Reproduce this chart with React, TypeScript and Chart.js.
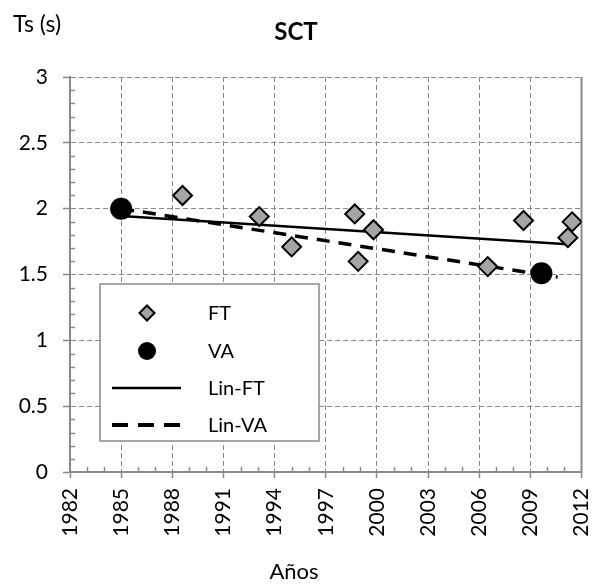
import React, { useEffect, useRef } from "react";
import { Chart, registerables } from "chart.js";

Chart.register(...registerables);

// ---- data ----
const TITLE = "SCT";
const Y_TITLE = "Ts (s)";
const X_TITLE = "Años";
const SERIES_NAMES = ["FT", "VA", "Lin-FT", "Lin-VA"];

const ftYears = [1988.6, 1993.1, 1995.0, 1998.7, 1998.9, 1999.8, 2006.5, 2008.6, 2011.2, 2011.45];
const ftValues = [2.1, 1.94, 1.71, 1.96, 1.6, 1.84, 1.56, 1.91, 1.78, 1.9];

const vaYears = [1985.0, 2009.65];
const vaValues = [2.0, 1.51];

const linFtYears = [1985.0, 2011.2];
const linFtValues = [1.944, 1.729];

const linVaYears = [1985.0, 2010.6];
const linVaValues = [2.0, 1.48];

const X_MIN = 1982;
const X_MAX = 2012;
const X_STEP = 3;
const X_MINOR = 1;
const Y_MIN = 0;
const Y_MAX = 3;
const Y_STEP = 0.5;
const Y_MINOR = 0.1;

// ---- styles ----
const FONT = 'Lato, "Open Sans", sans-serif';
const GRID = "#8a8a8a";
const DIAMOND_FILL = "#a5a5a5";

const toPts = (xs: number[], ys: number[]) => xs.map((x, i) => ({ x, y: ys[i] }));

function line(ctx: CanvasRenderingContext2D, x1: number, y1: number, x2: number, y2: number) {
  ctx.beginPath();
  ctx.moveTo(x1, y1);
  ctx.lineTo(x2, y2);
  ctx.stroke();
}

const overlay = {
  id: "overlay",
  beforeDatasetsDraw(chart: any) {
    const { ctx, chartArea } = chart;
    const { left, right, top, bottom } = chartArea;
    const x = chart.scales.x;
    const y = chart.scales.y;
    ctx.save();
    ctx.strokeStyle = GRID;
    ctx.setLineDash([]);
    ctx.lineWidth = 1.5;
    const nY = Math.round((Y_MAX - Y_MIN) / Y_MINOR);
    const perY = Math.round(Y_STEP / Y_MINOR);
    for (let i = 1; i < nY; i++) {
      if (i % perY === 0) continue;
      const py = Math.round(y.getPixelForValue(Y_MIN + i * Y_MINOR)) + 0.5;
      line(ctx, left, py, left + 5, py);
    }
    const nX = Math.round((X_MAX - X_MIN) / X_MINOR);
    const perX = Math.round(X_STEP / X_MINOR);
    for (let i = 1; i < nX; i++) {
      if (i % perX === 0) continue;
      const px = Math.round(x.getPixelForValue(X_MIN + i * X_MINOR)) + 0.5;
      line(ctx, px, bottom, px, bottom - 5);
    }
    ctx.lineWidth = 2;
    line(ctx, right, top, right, bottom + 1);
    ctx.restore();
  },
  afterDraw(chart: any) {
    const { ctx } = chart;
    ctx.save();
    ctx.fillStyle = "#000";
    ctx.font = `bold 24px ${FONT}`;
    ctx.textAlign = "center";
    ctx.textBaseline = "alphabetic";
    ctx.fillText(TITLE, 296, 40);
    ctx.font = `23px ${FONT}`;
    ctx.textAlign = "left";
    ctx.fillText(Y_TITLE, 13, 32);
    ctx.font = `22px ${FONT}`;
    ctx.textAlign = "center";
    ctx.fillText(X_TITLE, 294, 579);

    const bx = 100, by = 284, bw = 219, bh = 157;
    ctx.fillStyle = "#fff";
    ctx.fillRect(bx, by, bw, bh);
    ctx.strokeStyle = GRID;
    ctx.lineWidth = 1.5;
    ctx.setLineDash([]);
    ctx.strokeRect(bx, by, bw, bh);

    const rows = [313, 351, 388, 425];
    const sx = 147;
    ctx.beginPath();
    const r = 7.5;
    ctx.moveTo(sx, rows[0] - r);
    ctx.lineTo(sx + r, rows[0]);
    ctx.lineTo(sx, rows[0] + r);
    ctx.lineTo(sx - r, rows[0]);
    ctx.closePath();
    ctx.fillStyle = DIAMOND_FILL;
    ctx.fill();
    ctx.strokeStyle = "#000";
    ctx.lineWidth = 2;
    ctx.stroke();
    ctx.beginPath();
    ctx.arc(sx, rows[1], 9, 0, Math.PI * 2);
    ctx.fillStyle = "#000";
    ctx.fill();
    ctx.strokeStyle = "#000";
    ctx.lineWidth = 2.5;
    line(ctx, 112, rows[2], 181, rows[2]);
    ctx.lineWidth = 4;
    ctx.setLineDash([16, 10]);
    line(ctx, 112, rows[3], 181, rows[3]);
    ctx.setLineDash([]);

    ctx.fillStyle = "#000";
    ctx.font = `20px ${FONT}`;
    ctx.textAlign = "left";
    ctx.textBaseline = "middle";
    const labels = chart.data.datasets.map((d: any) => d.label);
    labels.forEach((t: string, i: number) => ctx.fillText(t, 208, rows[i] + 1));
    ctx.restore();
  },
};

export default function App() {
  const ref = useRef<HTMLCanvasElement | null>(null);

  useEffect(() => {
    if (!ref.current) return;
    const chart = new Chart(ref.current, {
      type: "scatter",
      data: {
        datasets: [
          {
            label: SERIES_NAMES[0],
            data: toPts(ftYears, ftValues),
            pointStyle: "rectRot",
            pointRadius: 9.5,
            pointBackgroundColor: DIAMOND_FILL,
            pointBorderColor: "#000",
            pointBorderWidth: 2,
            showLine: false,
          },
          {
            label: SERIES_NAMES[1],
            data: toPts(vaYears, vaValues),
            pointStyle: "circle",
            pointRadius: 11,
            pointBackgroundColor: "#000",
            pointBorderColor: "#000",
            pointBorderWidth: 0,
            showLine: false,
          },
          {
            label: SERIES_NAMES[2],
            data: toPts(linFtYears, linFtValues),
            showLine: true,
            pointRadius: 0,
            borderColor: "#000",
            borderWidth: 2.5,
            fill: false,
          },
          {
            label: SERIES_NAMES[3],
            data: toPts(linVaYears, linVaValues),
            showLine: true,
            pointRadius: 0,
            borderColor: "#000",
            borderWidth: 3.5,
            borderDash: [13, 9],
            fill: false,
          },
        ],
      },
      plugins: [overlay],
      options: {
        responsive: false,
        animation: false,
        events: [],
        layout: { padding: { left: 0, top: 77, right: 10.5, bottom: 0 } },
        plugins: {
          legend: { display: false },
          tooltip: { enabled: false },
          title: { display: false },
        },
        scales: {
          x: {
            type: "linear",
            min: X_MIN,
            max: X_MAX,
            afterFit: (s: any) => {
              s.height = 112;
              s.paddingLeft = 0;
              s.paddingRight = 0;
            },
            ticks: {
              stepSize: X_STEP,
              autoSkip: false,
              minRotation: 90,
              maxRotation: 90,
              padding: 10,
              color: "#000",
              font: { family: FONT, size: 21 },
              callback: (v: any) => String(v),
            },
            grid: {
              color: GRID,
              lineWidth: 1,
              tickLength: 6,
              tickColor: GRID,
              tickWidth: 1.5,
            },
            border: { display: true, color: GRID, width: 2, dash: [5, 3] },
          },
          y: {
            type: "linear",
            min: Y_MIN,
            max: Y_MAX,
            afterFit: (s: any) => {
              s.width = 70;
              s.paddingTop = 0;
              s.paddingBottom = 0;
            },
            ticks: {
              stepSize: Y_STEP,
              padding: 15,
              color: "#000",
              font: { family: FONT, size: 21 },
              callback: (v: any) => String(v),
            },
            grid: {
              color: GRID,
              lineWidth: 1,
              tickLength: 7,
              tickColor: GRID,
              tickWidth: 1.5,
            },
            border: { display: true, color: GRID, width: 2, dash: [5, 3] },
          },
        },
      },
    } as any);
    return () => chart.destroy();
  }, []);

  return (
    <div style={{ position: "fixed", left: 0, top: 0, width: 593, height: 584, background: "#fff" }}>
      <canvas ref={ref} width={593} height={584} style={{ display: "block" }} />
    </div>
  );
}
